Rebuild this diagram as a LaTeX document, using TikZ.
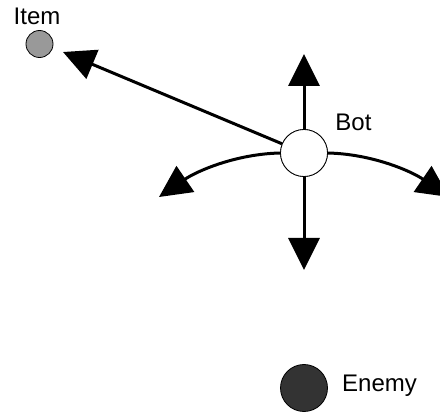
\documentclass[tikz,border=0pt]{standalone}
\usepackage{fontspec}
\setmainfont{Liberation Sans}
\usetikzlibrary{arrows.meta}
\begin{document}
\begin{tikzpicture}[x=1pt,y=-1pt,
  ent/.style={circle,draw=black,line width=0.8pt,inner sep=0pt},
  lbl/.style={font=\fontsize{24}{28}\selectfont,inner sep=0pt},
  mv/.style={line width=3pt,-{Triangle[length=32pt,width=31pt]}}]
\useasboundingbox (0,0) rectangle (440,412);
\node[ent,fill=black!40,minimum size=27pt] (item) at (39.5,44) {};
\node[ent,fill=white,minimum size=47pt] (bot) at (304,153) {};
\node[ent,fill=black!80,minimum size=47pt] (enemy) at (304,388) {};
\node[lbl,anchor=base] (itemlbl) at (37,25) {Item};
\node[lbl,anchor=base] (botlbl) at (353.5,131) {Bot};
\node[lbl,anchor=base] (enemylbl) at (379.5,391) {Enemy};
\coordinate (up) at (304,54);
\coordinate (down) at (304,270);
\coordinate (ltip) at (159,197);
\coordinate (rtip) at (449,197);
\coordinate (itip) at (63,52);
\draw[mv] (bot) -- (itip);
\draw[mv] (bot.north) -- (up);
\draw[mv] (bot.south) -- (down);
\draw[mv] (bot.west) .. controls (236,154) and (197,171) .. (ltip);
\draw[mv] (bot.east) .. controls (372,154) and (411,171) .. (rtip);
\node[ent,fill=white,minimum size=47pt] at (bot) {};
\end{tikzpicture}
\end{document}
